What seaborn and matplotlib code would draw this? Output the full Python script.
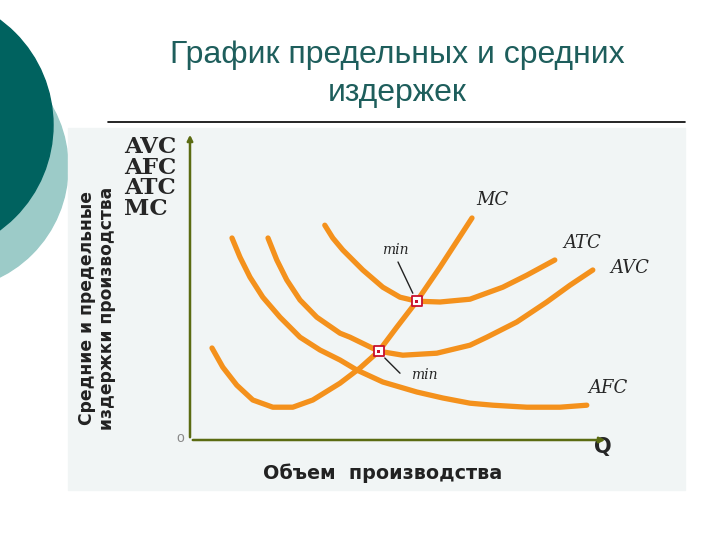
import numpy as np
import pandas as pd
import matplotlib.pyplot as plt
import seaborn as sns
from matplotlib.patches import Circle, Rectangle

sns.set_style('white')
plt.rcParams['font.family'] = ['Liberation Sans', 'DejaVu Sans']

# кривые издержек (Q, издержки)
mc_q = [0.55, 0.82, 1.17, 1.57, 2.07, 2.57, 3.07, 3.75, 4.25, 4.72, 5.17, 5.67, 6.25, 7.05]
mc_c = [2.30, 1.82, 1.37, 1.00, 0.82, 0.82, 1.00, 1.42, 1.80, 2.22, 2.82, 3.47, 4.32, 5.55]

afc_q = [1.05, 1.25, 1.50, 1.82, 2.25, 2.75, 3.25, 3.75, 4.17, 4.82, 5.67, 6.32, 7.00,
         7.57, 8.42, 9.25, 9.92]
afc_c = [5.05, 4.57, 4.07, 3.57, 3.07, 2.57, 2.25, 2.00, 1.75, 1.45, 1.20, 1.05, 0.92,
         0.87, 0.82, 0.82, 0.87]

avc_q = [1.95, 2.17, 2.42, 2.75, 3.17, 3.75, 4.00, 4.72, 5.32, 6.17, 7.00, 7.42, 8.17,
         8.92, 9.50, 10.07]
avc_c = [5.05, 4.50, 4.00, 3.50, 3.07, 2.67, 2.57, 2.22, 2.12, 2.17, 2.37, 2.57, 2.95,
         3.45, 3.87, 4.25]

atc_q = [3.37, 3.57, 3.82, 4.32, 4.82, 5.25, 5.67, 6.25, 7.00, 7.82, 8.42, 9.12]
atc_c = [5.37, 5.05, 4.75, 4.25, 3.82, 3.57, 3.47, 3.45, 3.52, 3.82, 4.12, 4.50]

# точки минимума (пересечение с MC)
min_q = [4.72, 5.67]
min_c = [2.22, 3.47]

orange = '#f4911c'
olive = '#5b6b12'
teal = '#00625f'

fig = plt.figure(figsize=(7.2, 5.4), dpi=100)

# фон слайда
bg = fig.add_axes([0, 0, 1, 1])
bg.set_xlim(0, 720)
bg.set_ylim(540, 0)
bg.axis('off')
bg.add_patch(Circle((-55, 167), 123, color='#9ccbc8', zorder=1))
bg.add_patch(Circle((-77, 125), 130, color=teal, zorder=2))
bg.add_patch(Rectangle((68, 128), 617, 362, color='#f1f5f5', zorder=1))
bg.plot([108, 685], [122, 122], color='black', lw=1.2)
bg.text(397, 55, 'График предельных и средних', ha='center', va='center',
        fontsize=23, color='#1e5e5c')
bg.text(397, 93, 'издержек', ha='center', va='center', fontsize=23, color='#1e5e5c')

bg.text(124, 178, 'AVC\nAFC\nATC\nMC', ha='left', va='center', fontsize=16.5,
        fontweight='bold', family='DejaVu Serif', linespacing=0.92)
bg.text(97, 308, 'Средние и предельные\nиздержки производства', rotation=90,
        ha='center', va='center', fontsize=12.3, fontweight='bold',
        family='DejaVu Sans', linespacing=1.15, color='#222222')
bg.text(383, 473, 'Объем  производства', ha='center', va='center', fontsize=13.8,
        fontweight='bold', family='DejaVu Sans', color='#222222')
bg.text(180, 438, 'o', ha='center', va='center', fontsize=10, color='#888888')
bg.text(603, 447, 'Q', ha='center', va='center', fontsize=15, fontweight='bold',
        family='DejaVu Sans')

# график
ax = fig.add_axes([190 / 720, 100 / 540, 420 / 720, 310 / 540])
ax.set_xlim(0, 10.5)
ax.set_ylim(0, 7.75)
ax.patch.set_alpha(0)
for s in ax.spines.values():
    s.set_visible(False)
ax.set_xticks([])
ax.set_yticks([])

curves = [('MC', mc_q, mc_c), ('AFC', afc_q, afc_c),
          ('AVC', avc_q, avc_c), ('ATC', atc_q, atc_c)]
for name, q, c in curves:
    df = pd.DataFrame({'Q': q, 'C': c})
    sns.lineplot(data=df, x='Q', y='C', ax=ax, color=orange, lw=3.8,
                 sort=False, solid_capstyle='round', solid_joinstyle='round')
ax.set_xlabel('')
ax.set_ylabel('')

# оси со стрелками
ax.annotate('', xy=(0, 7.7), xytext=(0, 0), annotation_clip=False,
            arrowprops=dict(arrowstyle='-|>', color=olive, lw=1.8, mutation_scale=8))
ax.annotate('', xy=(10.45, 0), xytext=(0, 0), annotation_clip=False,
            arrowprops=dict(arrowstyle='-|>', color=olive, lw=1.8, mutation_scale=8))

# маркеры минимума: красная рамка, белое поле, красная точка
ax.scatter(min_q, min_c, marker='s', s=60, facecolor='white', edgecolor='#c8102e',
           linewidth=1.3, zorder=5)
ax.scatter(min_q, min_c, marker='s', s=5, facecolor='#c8102e', edgecolor='none',
           zorder=6)

lab = dict(fontsize=13, style='italic', family='DejaVu Serif', ha='center',
           va='center', clip_on=False)
ax.text(7.57, 6.0, 'MC', **lab)
ax.text(9.8, 4.92, 'ATC', **lab)
ax.text(11.0, 4.3, 'AVC', **lab)
ax.text(10.45, 1.3, 'AFC', **lab)

ax.text(5.12, 4.75, 'min', fontsize=10, style='italic', family='DejaVu Serif',
        ha='center', va='center')
ax.plot([5.2, 5.57], [4.45, 3.67], color='#222222', lw=1)
ax.text(5.85, 1.62, 'min', fontsize=10, style='italic', family='DejaVu Serif',
        ha='center', va='center')
ax.plot([4.87, 5.25], [2.05, 1.67], color='#222222', lw=1)

fig.savefig('out.png', dpi=100)
